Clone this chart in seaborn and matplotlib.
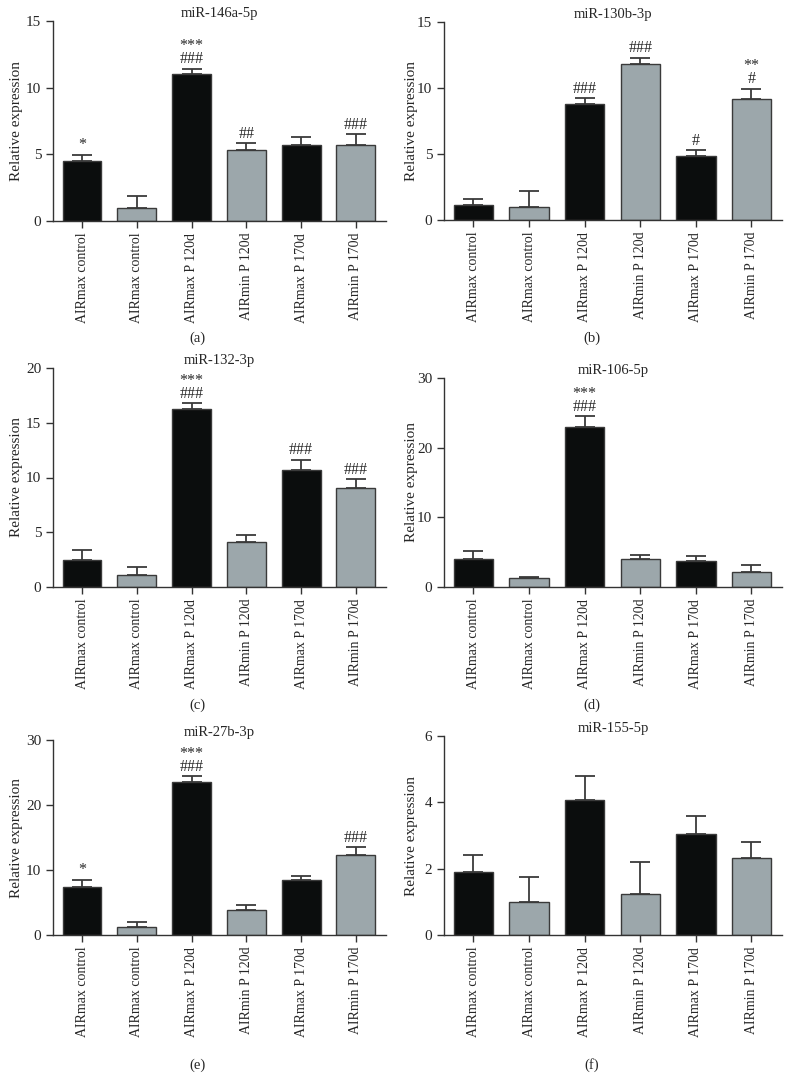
# Recreate six-panel miRNA relative expression bar chart
import numpy as np
import pandas as pd
import seaborn as sns
import matplotlib
matplotlib.use("Agg")
import matplotlib.pyplot as plt

groups = ["AIRmax control", "AIRmax control", "AIRmax P 120d",
          "AIRmin P 120d", "AIRmax P 170d", "AIRmin P 170d"]
air = ["max", "min", "max", "min", "max", "min"]

titles = ["miR-146a-5p", "miR-130b-3p", "miR-132-3p",
          "miR-106-5p", "miR-27b-3p", "miR-155-5p"]
panel_tags = ["(a)", "(b)", "(c)", "(d)", "(e)", "(f)"]

# means and upper error (SEM)
mean_146a = [4.5, 1.0, 11.05, 5.33, 5.73, 5.68]
err_146a = [0.47, 0.88, 0.38, 0.52, 0.6, 0.85]
mean_130b = [1.1, 1.0, 8.82, 11.83, 4.82, 9.15]
err_130b = [0.48, 1.19, 0.4, 0.46, 0.48, 0.8]
mean_132 = [2.43, 1.06, 16.29, 4.1, 10.7, 9.03]
err_132 = [0.94, 0.76, 0.52, 0.64, 0.91, 0.79]
mean_106 = [3.97, 1.24, 22.9, 4.02, 3.68, 2.1]
err_106 = [1.23, 0.24, 1.6, 0.57, 0.77, 1.1]
mean_27b = [7.33, 1.18, 23.54, 3.9, 8.41, 12.31]
err_27b = [1.18, 0.87, 0.92, 0.66, 0.72, 1.18]
mean_155 = [1.91, 1.0, 4.07, 1.24, 3.06, 2.31]
err_155 = [0.5, 0.74, 0.72, 0.97, 0.52, 0.49]

stars_146a = ["*", "", "***", "", "", ""]
hash_146a = ["", "", "###", "##", "", "###"]
stars_130b = ["", "", "", "", "", "**"]
hash_130b = ["", "", "###", "###", "#", "#"]
stars_132 = ["", "", "***", "", "", ""]
hash_132 = ["", "", "###", "", "###", "###"]
stars_106 = ["", "", "***", "", "", ""]
hash_106 = ["", "", "###", "", "", ""]
stars_27b = ["*", "", "***", "", "", ""]
hash_27b = ["", "", "###", "", "", "###"]
stars_155 = ["", "", "", "", "", ""]
hash_155 = ["", "", "", "", "", ""]

ymax = [15, 15, 20, 30, 30, 6]
ystep = [5, 5, 5, 10, 10, 2]

panels = [
    (mean_146a, err_146a, stars_146a, hash_146a),
    (mean_130b, err_130b, stars_130b, hash_130b),
    (mean_132, err_132, stars_132, hash_132),
    (mean_106, err_106, stars_106, hash_106),
    (mean_27b, err_27b, stars_27b, hash_27b),
    (mean_155, err_155, stars_155, hash_155),
]

# axes boxes (left, top, right, bottom) in pixels
W, H = 789, 1077
boxes = [
    (53, 21, 386, 221), (444, 22, 782, 220),
    (53, 368, 386, 587), (444, 378, 782, 587),
    (53, 740, 386, 935), (444, 736, 782, 935),
]
ylabel_right = [23, 418, 23, 418, 23, 418]
tag_pos = [(197, 338), (592, 338), (197, 705), (592, 705), (197, 1065), (592, 1065)]

sns.set_style("ticks")
plt.rcParams["font.family"] = ["Liberation Serif", "DejaVu Serif"]
plt.rcParams["axes.linewidth"] = 1.0

BLACK = "#0b0d0d"
GRAY = "#9aa8ae"
EDGE = "#3a3a3a"

fig = plt.figure(figsize=(W / 100, H / 100), dpi=100)

for i, (means, errs, stars, hashes) in enumerate(panels):
    x0, y0, x1, y1 = boxes[i]
    ax = fig.add_axes([x0 / W, 1 - y1 / H, (x1 - x0) / W, (y1 - y0) / H])
    df = pd.DataFrame({"pos": range(6), "value": means, "air": air})
    sns.barplot(data=df, x="pos", y="value", hue="air", dodge=False,
                palette={"max": BLACK, "min": GRAY}, width=0.71,
                edgecolor=EDGE, linewidth=1.0, errorbar=None,
                legend=False, ax=ax)
    pos = np.arange(6)
    ax.errorbar(pos, means, yerr=[np.zeros(6), errs], fmt="none",
                ecolor=EDGE, elinewidth=1.3, capsize=7, capthick=1.3,
                zorder=0.5)
    tops = np.array(means) + np.array(errs)
    for p, t, s, h in zip(pos, tops, stars, hashes):
        lab = "\n".join(x for x in (s, h) if x)
        if not lab:
            continue
        ax.annotate(lab, (p, t), xytext=(0, 1), textcoords="offset points",
                    ha="center", va="bottom", fontsize=11.5, color="#2a2a2a",
                    linespacing=0.75, multialignment="center")
    ax.set_xlim(-0.53, 5.55)
    ax.set_ylim(0, ymax[i])
    ax.set_yticks(np.arange(0, ymax[i] + 0.1, ystep[i]))
    ax.set_xticks(pos)
    ax.set_xticklabels(groups, rotation=90, fontsize=10)
    ax.tick_params(axis="y", labelsize=11, length=5, width=1, color="#333333")
    ax.tick_params(axis="x", length=5, width=1, color="#333333")
    ax.set_xlabel("")
    ax.set_ylabel("Relative expression", fontsize=11)
    ax.yaxis.set_label_coords((ylabel_right[i] - x0) / (x1 - x0), 0.5)
    ax.set_title(titles[i], fontsize=10.5, pad=3)
    sns.despine(ax=ax)
    for sp in ["left", "bottom"]:
        ax.spines[sp].set_color("#333333")
    fig.text(tag_pos[i][0] / W, 1 - tag_pos[i][1] / H, panel_tags[i],
             ha="center", va="center", fontsize=10.5)

fig.savefig("out.png", dpi=100)
